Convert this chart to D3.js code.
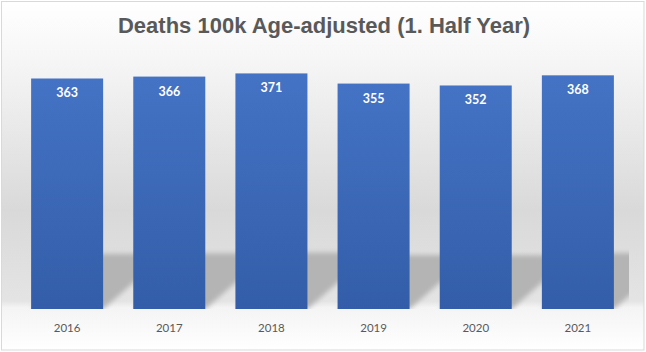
<!DOCTYPE html>
<html>
<head>
<meta charset="utf-8">
<script src="https://cdn.jsdelivr.net/npm/d3@7"></script>
<style>
  body { margin: 0; background: #fff; }
  svg { display: block; }
</style>
</head>
<body>
<div class="chart"></div>
<script>
// chart data
const years = ['2016', '2017', '2018', '2019', '2020', '2021'];
const deaths = [363, 366, 371, 355, 352, 368];
const yDomain = [0, 400];
const titleText = 'Deaths 100k Age-adjusted (1. Half Year)';

const W = 646;
const H = 352;
const plot = { left: 16, right: 629, top: 55, bottom: 309 };

const svg = d3.select('.chart')
  .append('svg')
  .attr('width', W)
  .attr('height', H);

const defs = svg.append('defs');

// chart background gradient
const bg = defs.append('linearGradient')
  .attr('id', 'bgGrad')
  .attr('x1', 0).attr('y1', 0).attr('x2', 0).attr('y2', 1);
[[0, '#ffffff'], [0.15, '#f7f7f7'], [0.6, '#d9d9d9'], [0.86, '#e4e4e4'],
  [0.878, '#f4f4f4'], [1, '#ffffff']].forEach(([o, c]) => {
  bg.append('stop').attr('offset', o).attr('stop-color', c);
});

// bar gradient
const barGrad = defs.append('linearGradient')
  .attr('id', 'barGrad')
  .attr('x1', 0).attr('y1', 0).attr('x2', 0).attr('y2', 1);
barGrad.append('stop').attr('offset', 0).attr('stop-color', '#4473c5');
barGrad.append('stop').attr('offset', 1).attr('stop-color', '#335da8');

const blur = defs.append('filter')
  .attr('id', 'shadowBlur')
  .attr('x', '-50%').attr('y', '-50%')
  .attr('width', '200%').attr('height', '200%');
blur.append('feGaussianBlur').attr('stdDeviation', 2.5);

defs.append('clipPath')
  .attr('id', 'plotClip')
  .append('rect')
  .attr('x', plot.left)
  .attr('y', plot.top)
  .attr('width', plot.right - plot.left)
  .attr('height', plot.bottom - plot.top);

svg.append('rect')
  .attr('x', 1.5)
  .attr('y', 1.5)
  .attr('width', 642.5)
  .attr('height', 348.5)
  .attr('fill', 'url(#bgGrad)')
  .attr('stroke', '#d9d9d9')
  .attr('stroke-width', 1);

// title
svg.append('text')
  .attr('x', W / 2 + 1)
  .attr('y', 33)
  .attr('text-anchor', 'middle')
  .style('font-family', '"Liberation Sans", Arial, sans-serif')
  .style('font-weight', 'bold')
  .style('font-size', '22px')
  .attr('fill', '#595959')
  .text(titleText);

// scales
const x = d3.scaleBand()
  .domain(years)
  .range([plot.left, plot.right])
  .paddingInner(0.295)
  .paddingOuter(0.148);

const y = d3.scaleLinear()
  .domain(yDomain)
  .range([plot.bottom, plot.top]);

// perspective shadows behind bars
svg.append('g')
  .attr('clip-path', 'url(#plotClip)')
  .selectAll('path')
  .data(years.map((yr, i) => ({ yr, v: deaths[i] })))
  .join('path')
  .attr('d', (d) => {
    const x0 = x(d.yr);
    const x1 = x0 + x.bandwidth();
    const hgt = (y(0) - y(d.v)) * 0.24;
    const dx = hgt * 1.15;
    const yb = y(0);
    return `M${x0},${yb}L${x1},${yb}L${x1 + dx},${yb - hgt}L${x0 + dx},${yb - hgt}Z`;
  })
  .attr('fill', '#b4b4b4')
  .attr('filter', 'url(#shadowBlur)');

// bars
svg.append('g')
  .selectAll('rect')
  .data(deaths)
  .join('rect')
  .attr('x', (d, i) => x(years[i]))
  .attr('y', (d) => y(d))
  .attr('width', x.bandwidth())
  .attr('height', (d) => y(0) - y(d))
  .attr('fill', 'url(#barGrad)');

// value labels
svg.append('g')
  .selectAll('text')
  .data(deaths)
  .join('text')
  .attr('x', (d, i) => x(years[i]) + x.bandwidth() / 2)
  .attr('y', (d) => y(d) + 19)
  .attr('text-anchor', 'middle')
  .style('font-family', 'Lato, "Open Sans", sans-serif')
  .style('font-weight', 'bold')
  .style('font-size', '12.5px')
  .attr('fill', '#ffffff')
  .text((d) => d);

// x axis
const xAxis = svg.append('g')
  .attr('transform', `translate(0,${plot.bottom})`)
  .call(d3.axisBottom(x).tickSize(0).tickPadding(15));
xAxis.select('.domain').remove();
xAxis.selectAll('text')
  .style('font-family', 'Lato, "Open Sans", sans-serif')
  .style('font-size', '11.5px')
  .attr('fill', '#595959');
</script>
</body>
</html>
